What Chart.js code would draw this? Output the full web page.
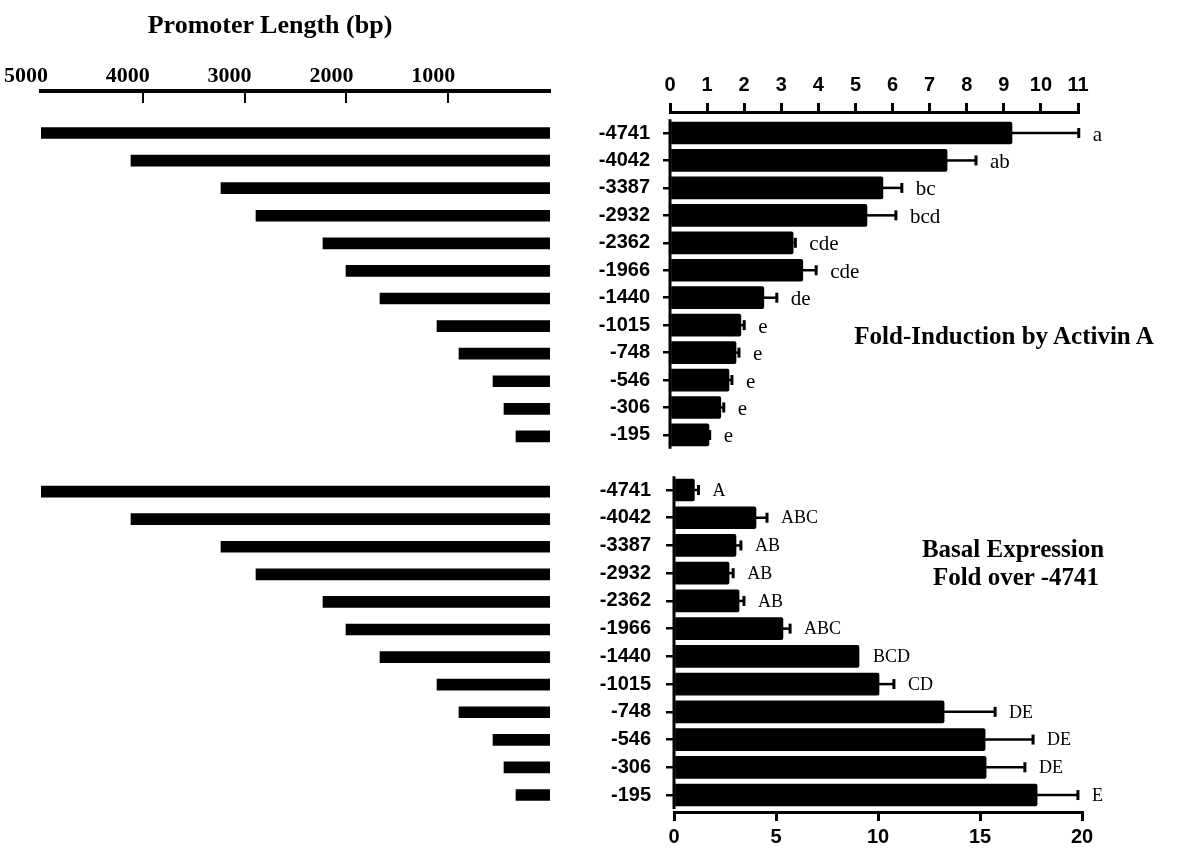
<!DOCTYPE html>
<html>
<head>
<meta charset="utf-8">
<script src="https://cdn.jsdelivr.net/npm/chart.js@4"></script>
<style>
  html, body { margin: 0; padding: 0; background: #fff; }
  #fig { position: relative; width: 1178px; height: 848px; overflow: hidden; background: #fff; }
  #fig canvas { position: absolute; }
  .t {
    position: absolute; transform: translate(-50%, -50%);
    font-family: "Liberation Serif", "Times New Roman", serif;
    font-weight: bold; font-size: 25px; line-height: 1.2;
    white-space: nowrap; text-align: center; color: #000;
  }
</style>
</head>
<body>
<div id="fig">
  <canvas id="lenChart" width="560" height="848" style="left:0;top:0"></canvas>
  <canvas id="foldChart" width="598" height="480" style="left:580px;top:0"></canvas>
  <canvas id="basalChart" width="598" height="408" style="left:580px;top:440px"></canvas>
  <div class="t" style="left:270px;top:25px;font-size:26px">Promoter Length (bp)</div>
  <div class="t" style="left:1004px;top:336px">Fold-Induction by Activin A</div>
  <div class="t" style="left:1013px;top:549px">Basal Expression</div>
  <div class="t" style="left:1016px;top:577px">Fold over -4741</div>
</div>
<script>
// Promoter deletion constructs (5' end position)
const constructs = ['-4741', '-4042', '-3387', '-2932', '-2362', '-1966', '-1440', '-1015', '-748', '-546', '-306', '-195'];

// Construct bar lengths (bp) as drawn on the promoter-length axis
const promoterBar = [5000, 4116, 3232, 2888, 2230, 2004, 1670, 1110, 894, 560, 452, 334];
const lengthTicks = [5000, 4000, 3000, 2000, 1000];

// Fold-induction by activin A, mean and SEM, with significance groups
const activinFold = [9.22, 7.47, 5.74, 5.31, 3.32, 3.58, 2.53, 1.91, 1.78, 1.59, 1.37, 1.05];
const activinSem  = [1.80, 0.78, 0.51, 0.78, 0.06, 0.36, 0.35, 0.09, 0.08, 0.08, 0.08, 0.02];
const activinGroups = ['a', 'ab', 'bc', 'bcd', 'cde', 'cde', 'de', 'e', 'e', 'e', 'e', 'e'];

// Basal expression relative to -4741, mean and SEM, with significance groups
const basalFold = [1.00, 4.02, 3.04, 2.70, 3.19, 5.34, 9.07, 10.05, 13.24, 15.25, 15.30, 17.80];
const basalSem  = [0.20, 0.54, 0.24, 0.20, 0.24, 0.35, 0.00, 0.73, 2.50, 2.35, 1.90, 2.00];
const basalGroups = ['A', 'ABC', 'AB', 'AB', 'AB', 'ABC', 'BCD', 'CD', 'DE', 'DE', 'DE', 'E'];

const SERIF = '"Liberation Serif", "Times New Roman", serif';
const SANS = '"Liberation Sans", Arial, sans-serif';

Chart.defaults.animation = false;
Chart.defaults.color = '#000';
Chart.defaults.plugins.legend.display = false;
Chart.defaults.plugins.tooltip.enabled = false;

// ---- left panel: construct lengths, both groups share one axis ----
const lenPoints = [];
constructs.forEach((c, i) => lenPoints.push({ x: promoterBar[i], y: i }));
constructs.forEach((c, i) => lenPoints.push({ x: promoterBar[i], y: i + 13 }));

// inward tick marks under the top length axis
const lengthTickMarks = {
  id: 'lengthTickMarks',
  afterDraw(chart) {
    const { ctx, chartArea, scales: { x } } = chart;
    ctx.save();
    ctx.strokeStyle = '#000';
    ctx.lineWidth = 2;
    lengthTicks.slice(1).forEach(v => {
      const px = Math.round(x.getPixelForValue(v));
      ctx.beginPath();
      ctx.moveTo(px, chartArea.top + 2);
      ctx.lineTo(px, chartArea.top + 12);
      ctx.stroke();
    });
    ctx.restore();
  }
};

new Chart(document.getElementById('lenChart'), {
  type: 'bar',
  data: { datasets: [{ data: lenPoints, backgroundColor: '#000', barThickness: 11 }] },
  options: {
    indexAxis: 'y',
    responsive: false,
    layout: { autoPadding: false, padding: { left: 41, right: 10, top: 40, bottom: 28 } },
    scales: {
      x: {
        type: 'linear', position: 'top', reverse: true, min: 0, max: 5000,
        afterFit: s => { s.height = 51; },
        afterBuildTicks: s => { s.ticks = lengthTicks.map(v => ({ value: v })); },
        ticks: {
          callback: v => String(v),
          font: { family: SERIF, size: 22, weight: 'bold' },
          color: '#000', padding: 1, labelOffset: -15, maxRotation: 0, autoSkip: false
        },
        grid: { drawOnChartArea: false, drawTicks: false },
        border: { display: true, width: 4, color: '#000' }
      },
      y: {
        type: 'linear', reverse: true, min: -1.523, max: 24.906, display: false,
        offset: false, grid: { offset: false }
      }
    }
  },
  plugins: [lengthTickMarks]
});

// ---- right panels: bars with SEM whiskers and group letters ----
function panelMarks(values, sem, groups, letterFont, letterDy) {
  return {
    id: 'panelMarks',
    afterDatasetsDraw(chart) {
      const { ctx, scales: { x, y } } = chart;
      ctx.save();
      ctx.strokeStyle = '#000';
      ctx.fillStyle = '#000';
      // category axis spine, set slightly apart from the value axis
      const x0 = x.getPixelForValue(0);
      ctx.lineWidth = 3;
      ctx.beginPath();
      ctx.moveTo(x0, y.getPixelForValue(-0.5));
      ctx.lineTo(x0, y.getPixelForValue(values.length - 0.5));
      ctx.stroke();
      values.forEach((v, i) => {
        const py = y.getPixelForValue(i);
        const xs = x.getPixelForValue(v);
        const xe = x.getPixelForValue(v + sem[i]);
        if (sem[i] > 0) {
          ctx.lineWidth = 2.5;
          ctx.beginPath();
          ctx.moveTo(xs, py);
          ctx.lineTo(xe, py);
          ctx.stroke();
          ctx.fillRect(xe - 1.5, py - 5, 3, 10);
        }
        ctx.font = letterFont;
        ctx.textBaseline = 'middle';
        ctx.textAlign = 'left';
        ctx.fillText(groups[i], xe + 14, py + letterDy);
      });
      ctx.restore();
    }
  };
}

function barPanel(id, values, sem, groups, cfg) {
  const points = values.map((v, i) => ({ x: v, y: i }));
  return new Chart(document.getElementById(id), {
    type: 'bar',
    data: { datasets: [{ data: points, backgroundColor: '#000', barThickness: 22, borderRadius: 2 }] },
    options: {
      indexAxis: 'y',
      responsive: false,
      layout: { autoPadding: false, padding: cfg.padding },
      scales: {
        x: {
          type: 'linear', position: cfg.axisPos, min: 0, max: cfg.max,
          afterFit: s => { s.height = cfg.axisHeight; },
          ticks: {
            stepSize: cfg.step, callback: v => String(v),
            font: { family: SANS, size: 20, weight: 'bold' },
            color: '#000', padding: cfg.tickPad, maxRotation: 0, autoSkip: false
          },
          grid: { drawOnChartArea: false, drawTicks: true, tickLength: 9, lineWidth: 3, color: '#000' },
          border: { display: true, width: 3, color: '#000' }
        },
        y: {
          type: 'linear', reverse: true, min: cfg.yMin, max: cfg.yMax, offset: false,
          afterFit: s => { s.width = cfg.labelWidth; },
          afterBuildTicks: s => { s.ticks = constructs.map((c, i) => ({ value: i })); },
          ticks: {
            callback: v => constructs[v],
            font: { family: SANS, size: 20, weight: 'bold' },
            color: '#000', padding: cfg.catPad, autoSkip: false
          },
          grid: { offset: false, drawOnChartArea: false, drawTicks: true, tickLength: cfg.catTick, lineWidth: 2.5, color: '#000' },
          border: { display: false }
        }
      }
    },
    plugins: [panelMarks(values, sem, groups, cfg.letterFont, cfg.letterDy)]
  });
}

barPanel('foldChart', activinFold, activinSem, activinGroups, {
  padding: { left: 0, right: 100, top: 40, bottom: 31 },
  axisPos: 'top', axisHeight: 72, max: 11, step: 1, tickPad: 6,
  yMin: -0.765, yMax: 11.512, labelWidth: 90, catPad: 13, catTick: 7,
  letterFont: '21px ' + SERIF, letterDy: 2
});

barPanel('basalChart', basalFold, basalSem, basalGroups, {
  padding: { left: 0, right: 96, top: 30, bottom: 0 },
  axisPos: 'bottom', axisHeight: 36, max: 20, step: 5, tickPad: 4,
  yMin: -0.721, yMax: 11.612, labelWidth: 94, catPad: 15, catTick: 8,
  letterFont: '18px ' + SERIF, letterDy: 1
});
</script>
</body>
</html>
